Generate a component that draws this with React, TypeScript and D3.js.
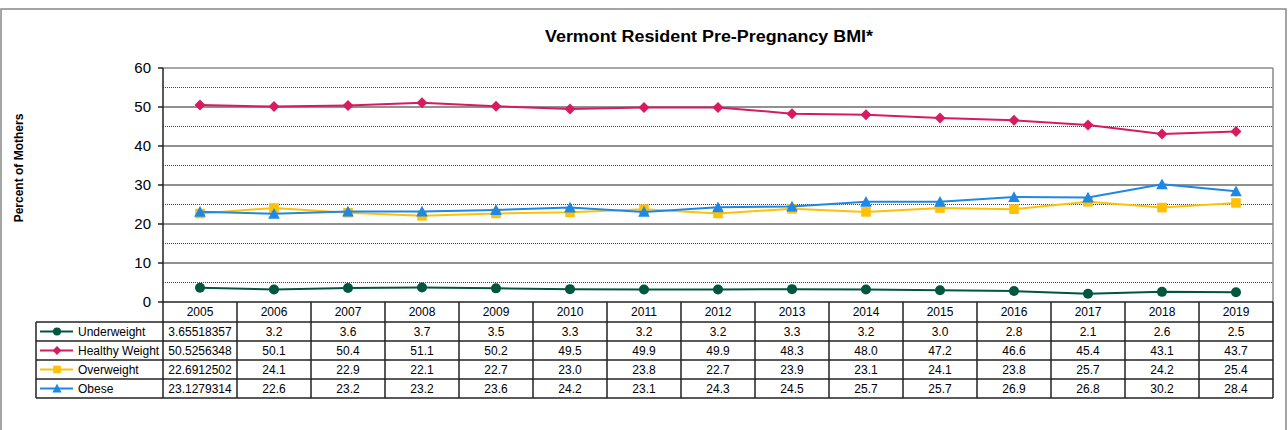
import React from "react";
import * as d3 from "d3";

const years = ["2005","2006","2007","2008","2009","2010","2011","2012","2013","2014","2015","2016","2017","2018","2019"];
const underweight = [3.65518357,3.2,3.6,3.7,3.5,3.3,3.2,3.2,3.3,3.2,3.0,2.8,2.1,2.6,2.5];
const healthyWeight = [50.5256348,50.1,50.4,51.1,50.2,49.5,49.9,49.9,48.3,48.0,47.2,46.6,45.4,43.1,43.7];
const overweight = [22.6912502,24.1,22.9,22.1,22.7,23.0,23.8,22.7,23.9,23.1,24.1,23.8,25.7,24.2,25.4];
const obese = [23.1279314,22.6,23.2,23.2,23.6,24.2,23.1,24.3,24.5,25.7,25.7,26.9,26.8,30.2,28.4];
const yTicks = [0,10,20,30,40,50,60];
const minorTicks = [5,15,25,35,45,55];

const seriesList = [
  { name: "Underweight", values: underweight, color: "#00563F", marker: "circle" },
  { name: "Healthy Weight", values: healthyWeight, color: "#D81B60", marker: "diamond" },
  { name: "Overweight", values: overweight, color: "#FFC107", marker: "square" },
  { name: "Obese", values: obese, color: "#1E88E5", marker: "triangle" },
];

const FONT = "Liberation Sans, Arial, Helvetica, sans-serif";

function Marker({ type, x, y, color, scale = 1 }: any) {
  if (type === "circle") return <circle cx={x} cy={y} r={5 * scale} fill={color} />;
  if (type === "diamond") {
    const s = 5.5 * scale;
    return <path d={`M${x},${y - s}L${x + s},${y}L${x},${y + s}L${x - s},${y}Z`} fill={color} />;
  }
  if (type === "square") {
    const s = 4.8 * scale;
    return <rect x={x - s} y={y - s} width={2 * s} height={2 * s} fill={color} />;
  }
  const s = 5.8 * scale;
  return <path d={`M${x},${y - s}L${x + s},${y + s * 0.85}L${x - s},${y + s * 0.85}Z`} fill={color} />;
}

export default function App() {
  const left = 163, right = 1273, top = 68, bottom = 302;
  const x = d3.scaleBand<string>().domain(years).range([left, right]).padding(0);
  const y = d3.scaleLinear().domain([0, 60]).range([bottom, top]);
  const bw = x.bandwidth();
  const cx = (yr: string) => (x(yr) as number) + bw / 2;
  const line = d3.line<number>().x((_, i) => cx(years[i])).y((v) => y(v));

  const headerTop = bottom, headerBottom = 322;
  const rowH = 19;
  const legendLeft = 36;
  const tableBottom = headerBottom + rowH * seriesList.length;
  const tableStroke = "#222";

  const fmt = (v: number, i: number) => (i === 0 ? String(v) : v.toFixed(1));

  return (
    <svg width={1288} height={430} style={{ position: "absolute", left: 0, top: 0, fontFamily: FONT }}>
      <rect x={0} y={0} width={1288} height={430} fill="#fff" />
      <rect x={1} y={9} width={1285} height={440} fill="none" stroke="#888" strokeWidth={1.5} />
      <text x={709} y={42} textAnchor="middle" fontSize={16} fontWeight="bold" fill="#000" textLength={328} lengthAdjust="spacingAndGlyphs">
        Vermont Resident Pre-Pregnancy BMI*
      </text>
      <text transform={`translate(23,168) rotate(-90)`} textAnchor="middle" fontSize={12} fontWeight="bold" fill="#000">
        Percent of Mothers
      </text>

      {/* grid */}
      {minorTicks.map((t) => (
        <line key={"m" + t} x1={left} x2={right} y1={y(t)} y2={y(t)} stroke="#444" strokeWidth={1} strokeDasharray="1,1" />
      ))}
      {yTicks.filter((t) => t > 0 && t < 60).map((t) => (
        <line key={"g" + t} x1={left} x2={right} y1={y(t)} y2={y(t)} stroke="#222" strokeWidth={1} />
      ))}
      <line x1={left} x2={right} y1={y(60)} y2={y(60)} stroke="#888" strokeWidth={1.5} />
      <line x1={right} x2={right} y1={top} y2={bottom} stroke="#888" strokeWidth={1.5} />
      <line x1={left} x2={left} y1={top} y2={bottom} stroke="#222" strokeWidth={1.5} />
      {yTicks.map((t) => (
        <g key={"t" + t}>
          <line x1={left - 5} x2={left} y1={y(t)} y2={y(t)} stroke="#222" strokeWidth={1.5} />
          <text x={151} y={y(t) + 5} textAnchor="end" fontSize={15} fill="#000">{t}</text>
        </g>
      ))}

      {/* lines */}
      {seriesList.map((s) => (
        <g key={s.name}>
          <path d={line(s.values) as string} fill="none" stroke={s.color} strokeWidth={2} />
          {s.values.map((v, i) => (
            <Marker key={i} type={s.marker} x={cx(years[i])} y={y(v)} color={s.color} />
          ))}
        </g>
      ))}

      {/* table */}
      <line x1={left} x2={right} y1={bottom} y2={bottom} stroke={tableStroke} strokeWidth={1.5} />
      {years.map((yr) => (
        <text key={"h" + yr} x={cx(yr)} y={headerTop + 14} textAnchor="middle" fontSize={12} fill="#000">{yr}</text>
      ))}
      {seriesList.map((s, r) => {
        const rt = headerBottom + r * rowH;
        return (
          <g key={"r" + s.name}>
            <line x1={legendLeft + 4} x2={legendLeft + 37} y1={rt + rowH / 2} y2={rt + rowH / 2} stroke={s.color} strokeWidth={2} />
            <Marker type={s.marker} x={legendLeft + 21} y={rt + rowH / 2} color={s.color} scale={0.8} />
            <text x={legendLeft + 42} y={rt + 14} fontSize={12} fill="#000">{s.name}</text>
            {s.values.map((v, i) => (
              <text key={i} x={cx(years[i])} y={rt + 14} textAnchor="middle" fontSize={12} fill="#000">{fmt(v, i)}</text>
            ))}
          </g>
        );
      })}
      {seriesList.map((_, r) => (
        <line key={"hl" + r} x1={legendLeft} x2={right} y1={headerBottom + r * rowH} y2={headerBottom + r * rowH} stroke={tableStroke} strokeWidth={1.5} />
      ))}
      <line x1={legendLeft} x2={right} y1={tableBottom} y2={tableBottom} stroke={tableStroke} strokeWidth={1.5} />
      <line x1={legendLeft} x2={legendLeft} y1={headerBottom} y2={tableBottom} stroke={tableStroke} strokeWidth={1.5} />
      {years.map((yr) => (
        <line key={"v" + yr} x1={x(yr) as number} x2={x(yr) as number} y1={headerTop} y2={tableBottom} stroke={tableStroke} strokeWidth={1.5} />
      ))}
      <line x1={right} x2={right} y1={headerTop} y2={tableBottom} stroke={tableStroke} strokeWidth={1.5} />
    </svg>
  );
}
